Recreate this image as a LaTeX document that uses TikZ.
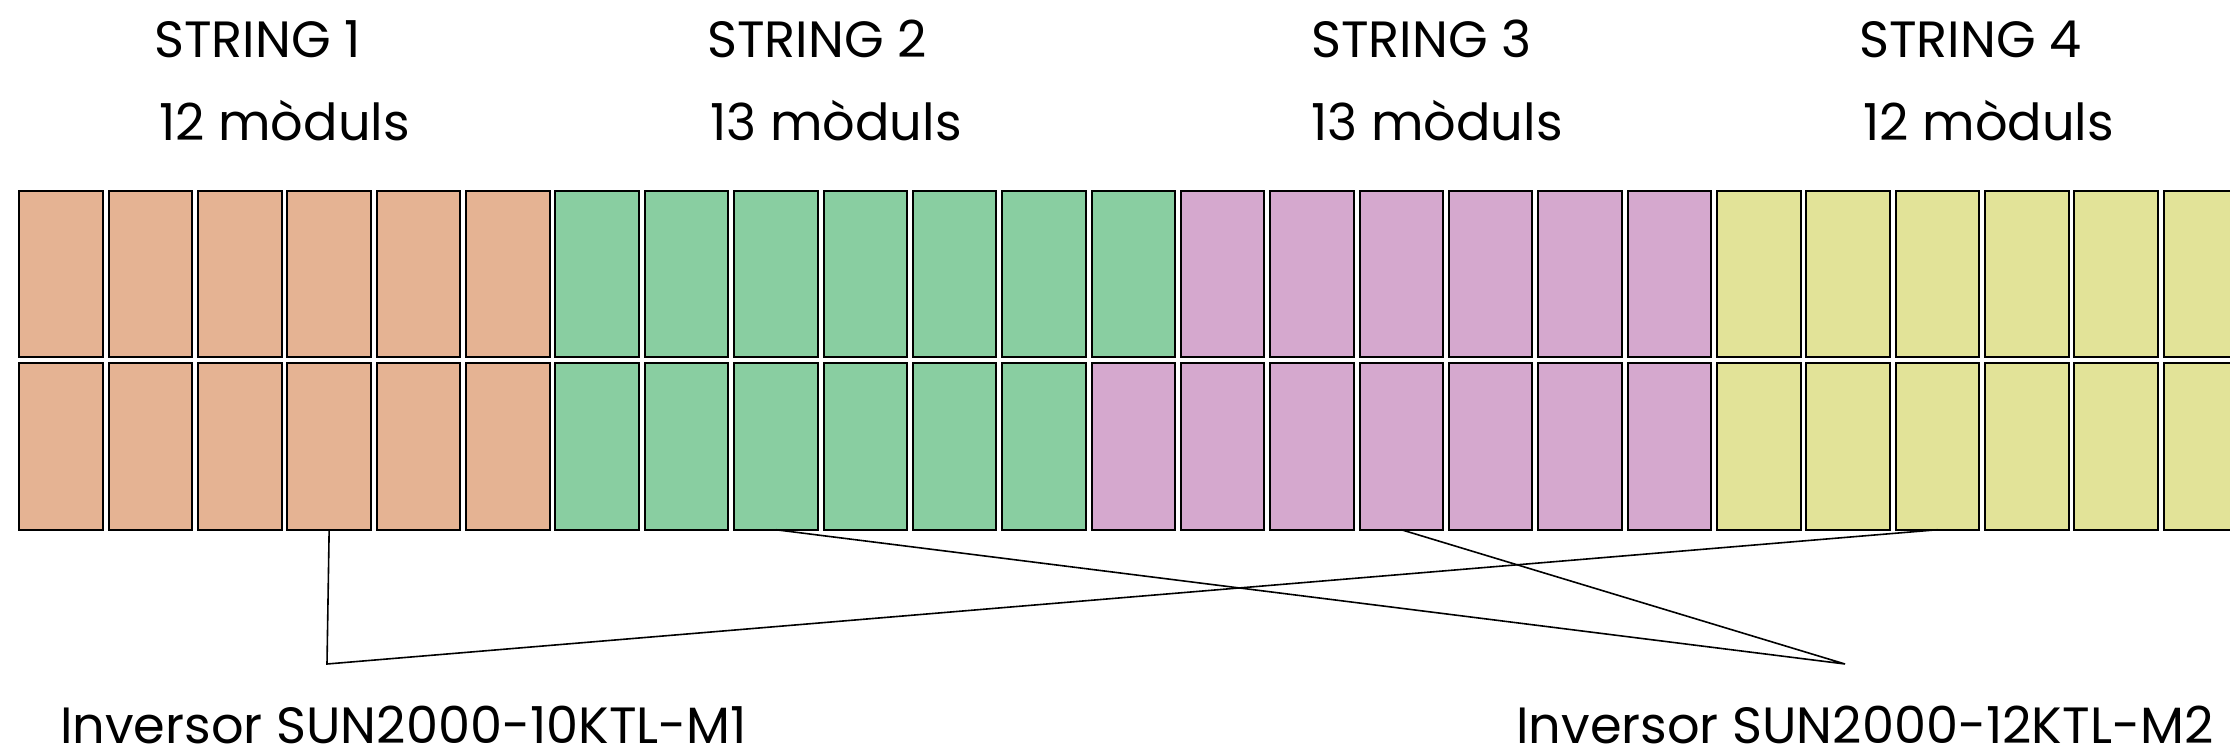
\documentclass[tikz,border=0pt]{standalone}
\usepackage{fontspec}
\setmainfont{Poppins}
\definecolor{corange}{RGB}{229,179,147}
\definecolor{cgreen}{RGB}{137,206,161}
\definecolor{cpink}{RGB}{213,168,206}
\definecolor{cyellow}{RGB}{226,227,152}
\tikzset{
  modbox/.style={draw=black, line width=2pt, minimum width=83.5pt, minimum height=166.5pt, inner sep=0pt, outer sep=0pt},
  wire/.style={draw=black, line width=1.6pt},
  lbl/.style={anchor=base west, inner sep=0pt, text depth=0pt, font=\fontsize{51}{60}\selectfont}
}
\begin{document}
\begin{tikzpicture}[x=1pt,y=-1pt]
\useasboundingbox (0,0) rectangle (2230,754);
\clip (0,0) rectangle (2230,754);
% modules
\foreach \c in {0,...,24}{
  \pgfmathsetmacro{\xc}{18.5+\c*89.35+42.6}
  \ifnum\c<6 \def\colA{corange}\def\colB{corange}\else
   \ifnum\c<12 \def\colA{cgreen}\def\colB{cgreen}\else
    \ifnum\c<13 \def\colA{cgreen}\def\colB{cpink}\else
     \ifnum\c<19 \def\colA{cpink}\def\colB{cpink}\else
      \def\colA{cyellow}\def\colB{cyellow}\fi\fi\fi\fi
  \node[modbox, fill=\colA] (m-1-\c) at (\xc,274) {};
  \node[modbox, fill=\colB] (m-2-\c) at (\xc,446.5) {};
}
% labels
\node[lbl] (s1) at (154,58) {STRING 1};
\node[lbl] (n1) at (159,141) {12 mòduls};
\node[lbl] (s2) at (707,58) {STRING 2};
\node[lbl] (n2) at (710,141) {13 mòduls};
\node[lbl] (s3) at (1311,58) {STRING 3};
\node[lbl] (n3) at (1311,141) {13 mòduls};
\node[lbl] (s4) at (1859,58) {STRING 4};
\node[lbl] (n4) at (1863,141) {12 mòduls};
\node[lbl] (i1) at (60,743) {Inversor SUN2000-10KTL-M1};
\node[lbl] (i2) at (1516,743) {Inversor SUN2000-12KTL-M2};
% wiring
\coordinate (inv1) at (327,664);
\coordinate (inv2) at (1845,664);
\draw[wire] (m-2-3.south) -- (inv1) -- (m-2-21.south);
\draw[wire] (m-2-8.south) -- (inv2) -- (m-2-15.south);
\end{tikzpicture}
\end{document}
